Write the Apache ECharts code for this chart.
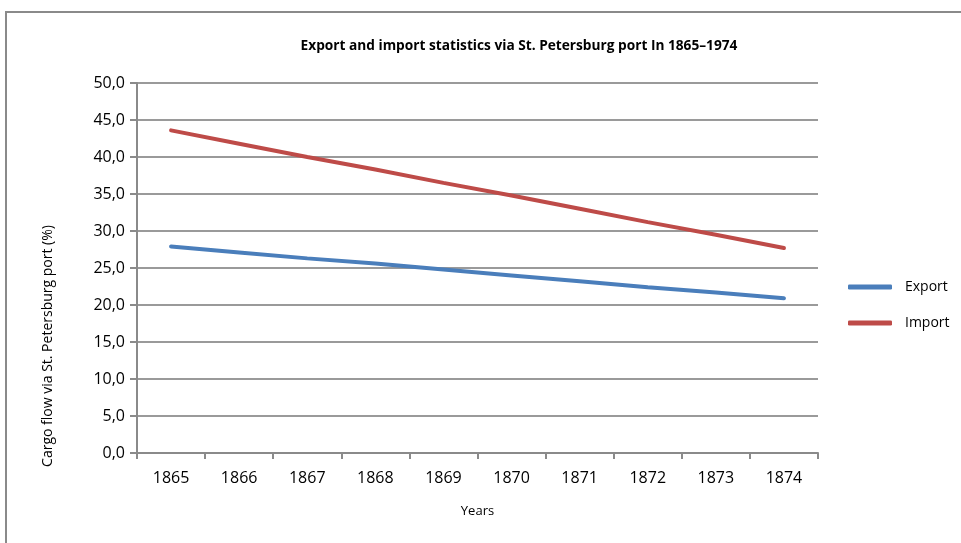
<!DOCTYPE html>
<html>
<head>
<meta charset="utf-8">
<script src="https://cdn.jsdelivr.net/npm/echarts@6/dist/echarts.min.js"></script>
<style>
  html, body { margin: 0; padding: 0; background: #fff; overflow: hidden; }
  #frame {
    position: absolute; left: 5px; top: 11px; width: 1000px; height: 600px;
    border: 2px solid #8a8a8a; box-sizing: border-box;
  }
  #chart { position: absolute; left: 0; top: 0; width: 961px; height: 543px; }
</style>
</head>
<body>
<div id="frame"></div>
<div id="chart"></div>
<script>
// years on the x axis
const years = ["1865", "1866", "1867", "1868", "1869", "1870", "1871", "1872", "1873", "1874"];
// values (%)
const exportValues = [27.9, 27.1, 26.3, 25.6, 24.8, 24.0, 23.2, 22.4, 21.7, 20.9];
const importValues = [43.6, 41.8, 40.0, 38.3, 36.5, 34.8, 33.0, 31.2, 29.5, 27.7];

const FONT = "'Open Sans', 'Noto Sans', sans-serif";

let mychart = echarts.init(document.getElementById("chart"));

mychart.setOption({
  animation: false,
  title: {
    text: "Export and import statistics via St. Petersburg port In 1865–1974",
    left: 514,
    textAlign: "center",
    top: 34,
    textStyle: { fontFamily: FONT, fontSize: 13.7, fontWeight: "bold", color: "#000" }
  },
  legend: {
    orient: "vertical",
    left: 843,
    top: 275,
    itemWidth: 44,
    itemHeight: 5,
    itemGap: 22,
    icon: "roundRect",
    textStyle: { fontFamily: FONT, fontSize: 14, color: "#000", padding: [0, 0, 0, 8] },
    data: ["Export", "Import"]
  },
  grid: {
    left: 137,
    right: 143,
    top: 83,
    bottom: 90
  },
  xAxis: {
    type: "category",
    data: years,
    boundaryGap: true,
    name: "Years",
    nameLocation: "middle",
    nameGap: 52,
    nameTextStyle: { fontFamily: FONT, fontSize: 13, color: "#000" },
    axisLine: { lineStyle: { color: "#8a8a8a", width: 2 } },
    axisTick: { show: true, length: 6, lineStyle: { color: "#8a8a8a", width: 2 } },
    axisLabel: { fontFamily: FONT, fontSize: 16, color: "#000", margin: 17 },
    splitLine: { show: false }
  },
  yAxis: {
    type: "value",
    min: 0,
    max: 50,
    interval: 5,
    name: "Cargo flow via St. Petersburg port (%)",
    nameLocation: "middle",
    nameGap: 82,
    // the title sits lower than the axis middle, so pad it down
    nameTextStyle: { fontFamily: FONT, fontSize: 14, color: "#000", padding: [0, 156, 0, 0] },
    axisLine: { show: true, lineStyle: { color: "#8a8a8a", width: 2 } },
    axisTick: { show: true, length: 7, lineStyle: { color: "#8a8a8a", width: 2 } },
    axisLabel: {
      fontFamily: FONT, fontSize: 16, color: "#000", margin: 12,
      formatter: function (v) { return v.toFixed(1).replace(".", ","); }
    },
    splitLine: { lineStyle: { color: "#9a9a9a", width: 2 } }
  },
  series: [
    {
      name: "Export",
      type: "line",
      data: exportValues,
      symbol: "none",
      lineStyle: { color: "#4a7ebb", width: 4, cap: "round" },
      itemStyle: { color: "#4a7ebb" }
    },
    {
      name: "Import",
      type: "line",
      data: importValues,
      symbol: "none",
      lineStyle: { color: "#be4b48", width: 4, cap: "round" },
      itemStyle: { color: "#be4b48" }
    }
  ]
});
</script>
</body>
</html>
